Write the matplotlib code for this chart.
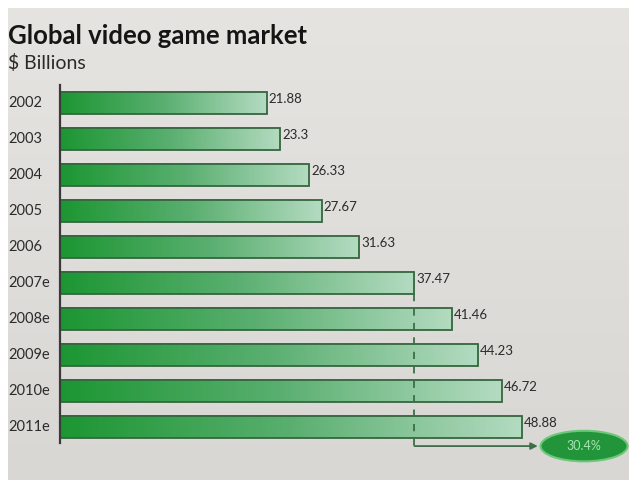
import numpy as np
import matplotlib
matplotlib.use("Agg")
import matplotlib.pyplot as plt
from matplotlib.colors import LinearSegmentedColormap
from matplotlib.patches import Ellipse

years = ["2002", "2003", "2004", "2005", "2006",
         "2007e", "2008e", "2009e", "2010e", "2011e"]
values = [21.88, 23.3, 26.33, 27.67, 31.63, 37.47, 41.46, 44.23, 46.72, 48.88]
value_labels = ["21.88", "23.3", "26.33", "27.67", "31.63",
                "37.47", "41.46", "44.23", "46.72", "48.88"]
growth_label = "30.4%"
forecast_start = 5  # index of first estimated year

plt.rcParams["font.family"] = ["Lato", "DejaVu Sans"]

W, H = 629, 480
fig = plt.figure(figsize=(W / 100, H / 100), dpi=100, facecolor="white")

# background panel with a soft vertical gradient
bg = fig.add_axes([8 / W, 0, 1 - 8 / W, 1 - 8 / H])
bg.imshow(np.linspace(0, 1, 256).reshape(-1, 1), aspect="auto",
          cmap=LinearSegmentedColormap.from_list("bg", ["#e6e4e1", "#d9d7d4"]),
          extent=[0, 1, 0, 1])
bg.set_axis_off()

fig.text(8 / W, 1 - 36 / H, "Global video game market", fontsize=18.5,
         fontweight="bold", color="#151515", va="center", ha="left")
fig.text(8 / W, 1 - 63 / H, "$ Billions", fontsize=14,
         color="#2a2a2a", va="center", ha="left")

# main axes: x=0 at px 60, 9.46 px per unit; y=-0.5 at px 85, 36 px per row
px_per_unit = 9.46
ax = fig.add_axes([60 / W, 1 - 463 / H, 60 * px_per_unit / W, 378 / H])

bar_cmap = LinearSegmentedColormap.from_list("bar", ["#1c9632", "#5aaf70", "#b4dbc1"])
grad = np.linspace(0, 1, 256).reshape(1, -1)
h = 0.62
for i, v in enumerate(values):
    ax.imshow(grad, cmap=bar_cmap, aspect="auto",
              extent=[0, v, i + h / 2, i - h / 2], zorder=2)
ax.set_xlim(0, 60)
ax.set_ylim(10.0, -0.5)
ax.set_axis_off()
ax.barh(range(len(values)), values, height=h, fill=False,
        edgecolor="#35663f", linewidth=1.3, zorder=3)

for i, (v, lab) in enumerate(zip(values, value_labels)):
    ax.text(v + 0.2, i - 0.1, lab, fontsize=9.5, color="#2b2b2b",
            va="center", ha="left", zorder=4)

for i, y in enumerate(years):
    ax.text(-5.5, i, y, fontsize=10.5, color="#2b2b2b", va="center",
            ha="left", clip_on=False)

# vertical axis line
ax.plot([0, 0], [-0.5, 9.45], color="#3a3a3a", lw=1.6, clip_on=False, zorder=5)

# dashed reference line and growth arrow
ref = values[forecast_start]
ax.plot([ref, ref], [forecast_start + h / 2, 9.53], color="#3c6e48",
        lw=1.3, ls=(0, (4, 4)), zorder=5)
ax.annotate("", xy=(50.5, 9.53), xytext=(ref, 9.53),
            arrowprops=dict(arrowstyle="-|>", color="#3c6e48", lw=1.3,
                            mutation_scale=10, shrinkA=0, shrinkB=0),
            zorder=5)
ell = Ellipse((55.4, 9.53), 9.2, 0.85, facecolor="#22953a",
              edgecolor="#6cc77a", lw=1.5, zorder=6, clip_on=False)
ax.add_patch(ell)
ax.text(55.4, 9.53, growth_label, fontsize=9, color="#a9e2b4",
        ha="center", va="center", zorder=7)

fig.savefig("out.png", dpi=100, facecolor="white")
